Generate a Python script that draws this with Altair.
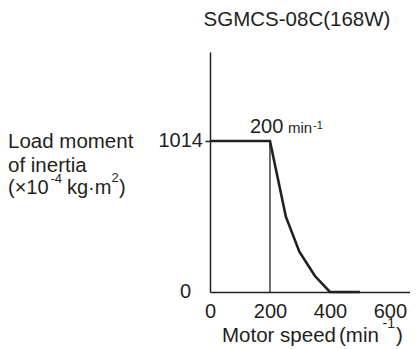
import altair as alt
import pandas as pd

# Data
speed = [0, 200, 253, 298, 350, 400, 500]
inertia = [1014, 1014, 506, 271, 107, 0, 0]
knee_speed = [200]
knee_inertia = [1014]
x_ticks = [0, 200, 400, 600]

FONT = "Liberation Sans"
COL = "#231f20"

curve_df = pd.DataFrame({"speed": speed, "inertia": inertia})
rule_df = pd.DataFrame({"speed": knee_speed, "inertia": knee_inertia})

xscale = alt.Scale(domain=[0, 667], nice=False, zero=False)
yscale = alt.Scale(domain=[0, 1612], nice=False, zero=False)

curve = alt.Chart(curve_df).mark_line(color=COL, strokeWidth=2.6, strokeJoin="miter").encode(
    x=alt.X("speed:Q", scale=xscale,
            axis=alt.Axis(values=x_ticks, ticks=False, grid=False, title=None,
                          domainColor=COL, domainWidth=1.5, labelFont=FONT,
                          labelFontSize=20, labelColor=COL, labelPadding=9,
                          labelFlush=False)),
    y=alt.Y("inertia:Q", scale=yscale,
            axis=alt.Axis(values=[1014], labels=False, grid=False, title=None,
                          tickSize=5, tickColor=COL, tickWidth=1.5,
                          domainColor=COL, domainWidth=1.5)),
)

rule = alt.Chart(rule_df).mark_rule(color=COL, strokeWidth=1.3).encode(
    x=alt.X("speed:Q", scale=xscale),
    y=alt.Y("inertia:Q", scale=yscale),
    y2=alt.datum(0),
)

# y-axis value labels placed at data y
ylab_df = pd.DataFrame({"inertia": [1014, 0], "label": ["1014", "0"], "px": [-7, -19]})
ylabels = alt.Chart(ylab_df).mark_text(font=FONT, fontSize=20, color=COL,
                                       align="right", baseline="middle").encode(
    x=alt.X("px:Q", scale=None),
    y=alt.Y("inertia:Q", scale=yscale),
    text="label:N",
)

title_df = pd.DataFrame({"t": ["SGMCS-08C(168W)"], "px": [87], "py": [-26]})
title = alt.Chart(title_df).mark_text(font=FONT, color=COL, fontSize=20.5,
                                      align="center", baseline="alphabetic").encode(
    x=alt.X("px:Q", scale=None),
    y=alt.Y("py:Q", scale=None),
    text="t:N",
)

# annotation text pieces (pixel positions relative to plot area)
texts = pd.DataFrame({
    "t": ["Load moment", "of inertia", "(\u00d710", "-4", "kg\u00b7m", "2", ")",
          "200", "min", "-1",
          "Motor speed", "(min", "-1", ")"],
    "px": [-202, -202, -202, -159.5, -143, -98.5, -91,
           40, 78, 103,
           12, 129, 172.5, 186],
    "py": [96, 119.5, 142, 131, 142, 130, 142,
           81, 81, 77,
           290, 290, 276, 290],
    "size": [20.5, 20.5, 20, 13, 20, 13, 20,
             20, 15, 11,
             20.5, 20.5, 14, 20.5],
})

ann = alt.Chart(texts).mark_text(font=FONT, color=COL, baseline="alphabetic",
                                 align="left").encode(
    x=alt.X("px:Q", scale=None),
    y=alt.Y("py:Q", scale=None),
    text="t:N",
    size=alt.Size("size:Q", scale=None, legend=None),
)

chart = alt.layer(rule, curve, ylabels, title, ann).properties(
    width=200, height=240,
    padding={"left": 202, "top": 44, "right": 0, "bottom": 57},
    autosize=alt.AutoSizeParams(type="none"),
    background="white",
).configure_view(stroke=None)

chart.save("out.html", embed_options={"renderer": "svg", "actions": False})
